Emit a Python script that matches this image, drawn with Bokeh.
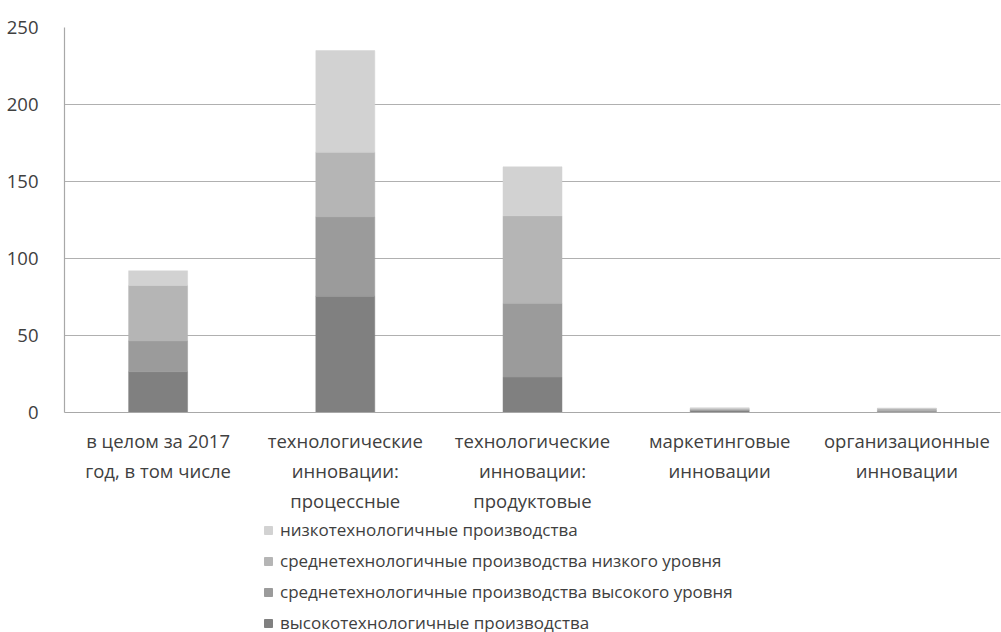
from bokeh.plotting import figure
from bokeh.models import FactorRange, Range1d, Legend, LegendItem, FixedTicker, ColumnDataSource
from bokeh.layouts import column
from bokeh.embed import file_html
from bokeh.resources import INLINE

categories = [
    "в целом за 2017\nгод, в том числе",
    "технологические\nинновации:\nпроцессные",
    "технологические\nинновации:\nпродуктовые",
    "маркетинговые\nинновации",
    "организационные\nинновации",
]
series_names = [
    "высокотехнологичные производства",
    "среднетехнологичные производства высокого уровня",
    "среднетехнологичные производства низкого уровня",
    "низкотехнологичные производства",
]
high_tech = [26.5, 75.5, 23.0, 1.2, 0.4]
mid_high = [20.0, 51.5, 48.0, 0.6, 1.0]
mid_low = [36.0, 42.0, 56.7, 0.8, 1.2]
low_tech = [9.5, 66.0, 31.8, 0.5, 0.3]
y_ticks = [0, 50, 100, 150, 200, 250]

colors = ["#808080", "#9b9b9b", "#b5b5b5", "#d2d2d2"]
keys = ["high", "midh", "midl", "low"]

src = ColumnDataSource(dict(cat=categories, high=high_tech, midh=mid_high, midl=mid_low, low=low_tech))

FONT = "Open Sans"
TXT = "#404040"
FS = "18.5px"
LFS = "17px"

p = figure(x_range=FactorRange(*categories, range_padding=0), y_range=Range1d(0, 250),
           frame_width=936, frame_height=385, output_backend="svg", toolbar_location=None,
           min_border_left=64, min_border_right=1, min_border_top=27, min_border_bottom=100)

r = p.vbar_stack(keys, x="cat", width=0.315, source=src, fill_color=colors,
                 line_color=colors, line_width=0.5)

p.outline_line_color = None
p.xgrid.grid_line_color = None
p.ygrid.grid_line_color = "#b0b0b0"
p.ygrid.grid_line_width = 1.2

p.yaxis.ticker = FixedTicker(ticks=y_ticks)
for ax in (p.xaxis[0], p.yaxis[0]):
    ax.axis_line_color = "#a8a8a8"
    ax.axis_line_width = 1.2
    ax.major_tick_line_color = None
    ax.minor_tick_line_color = None
    ax.major_label_text_font = FONT
    ax.major_label_text_font_size = FS
    ax.major_label_text_color = TXT
p.yaxis.major_label_standoff = 20
p.xaxis.major_label_standoff = 9

# legend-only figure below the chart
q = figure(width=1001, height=120, output_backend="svg", toolbar_location=None,
           x_range=Range1d(0, 1), y_range=Range1d(0, 1),
           min_border=0, min_border_left=0, min_border_right=0, min_border_top=0, min_border_bottom=0)
q.axis.visible = False
q.grid.visible = False
q.outline_line_color = None
lsrc = ColumnDataSource(dict(cat=["a"], high=[0], midh=[0], midl=[0], low=[0]))
lr = q.vbar_stack(keys, x=0.5, width=0.0, source=lsrc, fill_color=colors, line_color=colors)

items = [LegendItem(label=series_names[i], renderers=[lr[i]]) for i in reversed(range(4))]
legend = Legend(items=items, orientation="vertical", location=(199, 1),
                label_text_font=FONT, label_text_font_size=LFS, label_text_color=TXT,
                glyph_width=10, glyph_height=10, label_standoff=7, spacing=8,
                label_height=18,
                border_line_color=None, background_fill_alpha=0, padding=0, margin=0)
q.add_layout(legend, "center")

layout = column(p, q, spacing=0)
open("out.html", "w").write(file_html(layout, INLINE))
